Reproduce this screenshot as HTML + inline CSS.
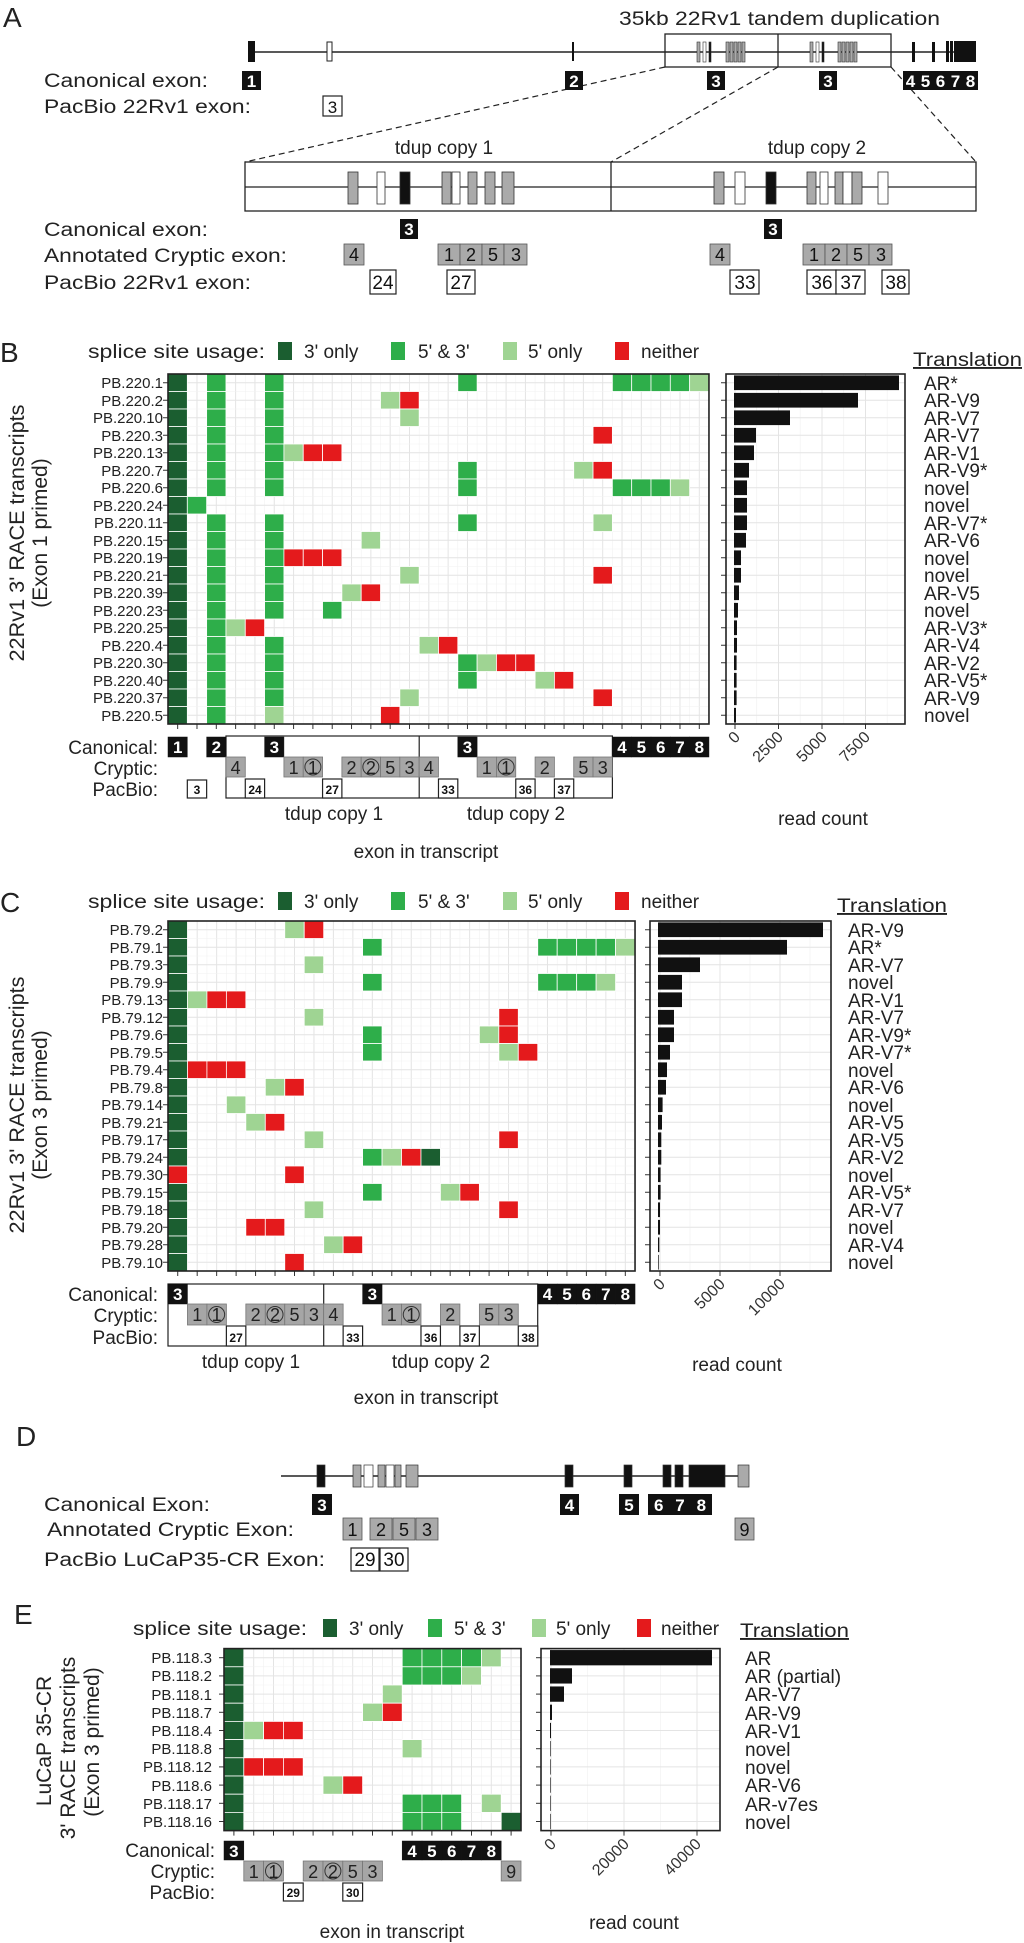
<!DOCTYPE html>
<html><head><meta charset="utf-8">
<style>
html,body{margin:0;padding:0;background:#fff;}
svg{display:block;font-family:"Liberation Sans",Arial,sans-serif;}
.lab{font-size:19px;fill:#222;}
.pb{font-size:15px;fill:#222;text-anchor:end;}
.tr{font-size:19px;fill:#222;}
.wb{font-size:17px;fill:#fff;font-weight:bold;text-anchor:middle;}
.cr{font-size:18px;fill:#222;text-anchor:middle;}
.pbn{font-size:12px;fill:#111;font-weight:bold;text-anchor:middle;}
.an{font-size:19px;fill:#111;text-anchor:middle;}
.big{font-size:28px;fill:#222;}
.ax{font-size:16px;fill:#333;text-anchor:end;}
</style></head><body>
<svg id="s" width="1024" height="1943" viewBox="0 0 1024 1943" xmlns="http://www.w3.org/2000/svg">
<g id="shapes"></g>
<g id="panelA">
 <line x1="248" y1="52" x2="976" y2="52" stroke="#222" stroke-width="1.5"/>
 <rect x="248" y="41" width="7" height="21" fill="#111"/>
 <rect x="327" y="42" width="5" height="19" fill="#fff" stroke="#222"/>
 <rect x="572" y="42" width="2" height="19" fill="#111"/>
 <rect x="665" y="34" width="226" height="33" fill="none" stroke="#222" stroke-width="1.3"/>
 <line x1="778" y1="34" x2="778" y2="67" stroke="#222" stroke-width="1.3"/>
 <g fill="#aaa" stroke="#333" stroke-width="0.6">
  <rect x="697" y="42" width="3" height="20"/><rect x="703" y="42" width="3" height="20" fill="#fff"/><rect x="709" y="42" width="2" height="20" fill="#111"/>
  <rect x="726" y="42" width="3" height="20"/><rect x="730" y="42" width="3" height="20"/><rect x="734" y="42" width="3" height="20"/><rect x="738" y="42" width="3" height="20"/><rect x="742" y="42" width="3" height="20"/>
  <rect x="810" y="42" width="3" height="20"/><rect x="816" y="42" width="3" height="20" fill="#fff"/><rect x="822" y="42" width="2" height="20" fill="#111"/>
  <rect x="838" y="42" width="3" height="20"/><rect x="842" y="42" width="3" height="20"/><rect x="846" y="42" width="3" height="20"/><rect x="850" y="42" width="3" height="20"/><rect x="854" y="42" width="3" height="20"/>
 </g>
 <rect x="912" y="42" width="3" height="20" fill="#111"/><rect x="932" y="42" width="3" height="20" fill="#111"/>
 <rect x="946" y="41" width="3" height="21" fill="#111"/><rect x="950" y="41" width="3" height="21" fill="#111"/><rect x="954" y="41" width="22" height="21" fill="#111"/>
 <g stroke="#222" stroke-width="1.2" stroke-dasharray="6,4">
  <line x1="665" y1="67" x2="245" y2="162"/><line x1="778" y1="67" x2="611" y2="162"/><line x1="891" y1="67" x2="976" y2="162"/>
 </g>
 <rect x="245" y="162" width="731" height="49" fill="none" stroke="#222" stroke-width="1.3"/>
 <line x1="611" y1="162" x2="611" y2="211" stroke="#222" stroke-width="1.3"/>
 <line x1="245" y1="187" x2="976" y2="187" stroke="#222" stroke-width="1.2"/>
 <g stroke="#333" stroke-width="0.8">
  <rect x="348" y="172" width="10" height="32" fill="#aaa"/><rect x="377" y="172" width="8" height="32" fill="#fff"/><rect x="400" y="172" width="10" height="32" fill="#111"/>
  <rect x="442" y="172" width="9" height="32" fill="#aaa"/><rect x="452" y="172" width="8" height="32" fill="#fff"/><rect x="468" y="172" width="9" height="32" fill="#aaa"/><rect x="485" y="172" width="10" height="32" fill="#aaa"/><rect x="502" y="172" width="12" height="32" fill="#aaa"/>
  <rect x="714" y="172" width="10" height="32" fill="#aaa"/><rect x="735" y="172" width="10" height="32" fill="#fff"/><rect x="766" y="172" width="10" height="32" fill="#111"/>
  <rect x="807" y="172" width="9" height="32" fill="#aaa"/><rect x="820" y="172" width="8" height="32" fill="#fff"/><rect x="835" y="172" width="8" height="32" fill="#aaa"/><rect x="843" y="172" width="9" height="32" fill="#fff"/><rect x="852" y="172" width="10" height="32" fill="#aaa"/><rect x="878" y="172" width="10" height="32" fill="#fff"/>
 </g>
 <rect x="242" y="71" width="19" height="19" fill="#111"/><rect x="565" y="71" width="18" height="19" fill="#111"/><rect x="707" y="71" width="18" height="19" fill="#111"/><rect x="819" y="71" width="18" height="19" fill="#111"/><rect x="903" y="71" width="75" height="19" fill="#111"/>
 <rect x="323" y="96" width="19" height="20" fill="#fff" stroke="#222" stroke-width="1.2"/>
 <rect x="400" y="219" width="18" height="20" fill="#111"/><rect x="764" y="219" width="18" height="20" fill="#111"/>
 <g fill="#aaa" stroke="#555" stroke-width="0.8">
  <rect x="344" y="244" width="20" height="21"/><rect x="438" y="244" width="22" height="21"/><rect x="460" y="244" width="22" height="21"/><rect x="482" y="244" width="22" height="21"/><rect x="504" y="244" width="23" height="21"/>
  <rect x="710" y="244" width="20" height="21"/><rect x="803" y="244" width="22" height="21"/><rect x="825" y="244" width="22" height="21"/><rect x="847" y="244" width="22" height="21"/><rect x="869" y="244" width="23" height="21"/>
 </g>
 <g fill="#fff" stroke="#222" stroke-width="1.2">
  <rect x="370" y="270" width="26" height="24"/><rect x="447" y="270" width="28" height="24"/><rect x="730" y="270" width="29" height="24"/><rect x="807" y="270" width="29" height="24"/><rect x="836" y="270" width="29" height="24"/><rect x="882" y="270" width="27" height="24"/>
 </g>
 <text x="3" y="27" class="big">A</text>
 <text x="619" y="25" class="lab" textLength="321" lengthAdjust="spacingAndGlyphs">35kb 22Rv1 tandem duplication</text>
 <text x="44" y="87" class="lab" textLength="164" lengthAdjust="spacingAndGlyphs">Canonical exon:</text>
 <text x="44" y="113" class="lab" textLength="207" lengthAdjust="spacingAndGlyphs">PacBio 22Rv1 exon:</text>
 <g class="wb"><text x="251.5" y="87">1</text><text x="574" y="87">2</text><text x="716" y="87">3</text><text x="828" y="87">3</text>
 <text x="910.5" y="87">4</text><text x="925.5" y="87">5</text><text x="940.5" y="87">6</text><text x="955.5" y="87">7</text><text x="970.5" y="87">8</text></g>
 <text x="332.5" y="113" class="an" style="font-size:17px">3</text>
 <text x="444" y="154" class="lab" text-anchor="middle">tdup copy 1</text>
 <text x="817" y="154" class="lab" text-anchor="middle">tdup copy 2</text>
 <text x="44" y="236" class="lab" textLength="164" lengthAdjust="spacingAndGlyphs">Canonical exon:</text>
 <text x="44" y="262" class="lab" textLength="243" lengthAdjust="spacingAndGlyphs">Annotated Cryptic exon:</text>
 <text x="44" y="289" class="lab" textLength="207" lengthAdjust="spacingAndGlyphs">PacBio 22Rv1 exon:</text>
 <g class="wb"><text x="409" y="235">3</text><text x="773" y="235">3</text></g>
 <g class="an" style="font-size:18px"><text x="354" y="261">4</text><text x="449" y="261">1</text><text x="471" y="261">2</text><text x="493" y="261">5</text><text x="516" y="261">3</text>
 <text x="720" y="261">4</text><text x="814" y="261">1</text><text x="836" y="261">2</text><text x="858" y="261">5</text><text x="881" y="261">3</text></g>
 <g class="an"><text x="383" y="289">24</text><text x="461" y="289">27</text><text x="745" y="289">33</text><text x="822" y="289">36</text><text x="851" y="289">37</text><text x="896" y="289">38</text></g>
</g>

<g>
 <text x="0" y="362" class="big">B</text>
 <text x="88" y="358" class="lab" textLength="177" lengthAdjust="spacingAndGlyphs">splice site usage:</text>
 <rect x="278" y="342" width="14" height="18" fill="#1b5e30"/><text x="304" y="358" class="lab">3' only</text>
 <rect x="391" y="342" width="14" height="18" fill="#2eae4a"/><text x="418" y="358" class="lab">5' &amp; 3'</text>
 <rect x="503" y="342" width="14" height="18" fill="#9fd493"/><text x="528" y="358" class="lab">5' only</text>
 <rect x="615" y="342" width="14" height="18" fill="#e41a1c"/><text x="641" y="358" class="lab">neither</text>
 <text x="913" y="366" class="lab" text-decoration="underline" textLength="109" lengthAdjust="spacingAndGlyphs">Translation</text>
 <g class="pb"><text x="163" y="388">PB.220.1</text><text x="163" y="406">PB.220.2</text><text x="163" y="423">PB.220.10</text><text x="163" y="441">PB.220.3</text><text x="163" y="458">PB.220.13</text><text x="163" y="476">PB.220.7</text><text x="163" y="493">PB.220.6</text><text x="163" y="511">PB.220.24</text><text x="163" y="528">PB.220.11</text><text x="163" y="546">PB.220.15</text><text x="163" y="563">PB.220.19</text><text x="163" y="581">PB.220.21</text><text x="163" y="598">PB.220.39</text><text x="163" y="616">PB.220.23</text><text x="163" y="633">PB.220.25</text><text x="163" y="651">PB.220.4</text><text x="163" y="668">PB.220.30</text><text x="163" y="686">PB.220.40</text><text x="163" y="703">PB.220.37</text><text x="163" y="721">PB.220.5</text></g>
 <g class="tr"><text x="924" y="390">AR*</text><text x="924" y="407">AR-V9</text><text x="924" y="425">AR-V7</text><text x="924" y="442">AR-V7</text><text x="924" y="460">AR-V1</text><text x="924" y="477">AR-V9*</text><text x="924" y="495">novel</text><text x="924" y="512">novel</text><text x="924" y="530">AR-V7*</text><text x="924" y="547">AR-V6</text><text x="924" y="565">novel</text><text x="924" y="582">novel</text><text x="924" y="600">AR-V5</text><text x="924" y="617">novel</text><text x="924" y="635">AR-V3*</text><text x="924" y="652">AR-V4</text><text x="924" y="670">AR-V2</text><text x="924" y="687">AR-V5*</text><text x="924" y="705">AR-V9</text><text x="924" y="722">novel</text></g>
 <text transform="translate(24,533) rotate(-90)" class="lab" text-anchor="middle" textLength="257" lengthAdjust="spacingAndGlyphs" style="font-size:21px">22Rv1 3' RACE transcripts</text>
 <text transform="translate(47,533) rotate(-90)" class="lab" text-anchor="middle" style="font-size:21px">(Exon 1 primed)</text>
 <g class="lab" text-anchor="end"><text x="158" y="754">Canonical:</text><text x="158" y="775">Cryptic:</text><text x="158" y="796">PacBio:</text></g>
 <g class="wb"><text x="177.7" y="753">1</text><text x="216.3" y="753">2</text><text x="274.3" y="753">3</text><text x="467.5" y="753">3</text><text x="622" y="753">4</text><text x="641.3" y="753">5</text><text x="660.7" y="753">6</text><text x="680" y="753">7</text><text x="699.3" y="753">8</text></g>
 <g class="cr"><text x="235.6" y="774">4</text><text x="293.6" y="774">1</text><text x="312.9" y="774">1</text><text x="351.5" y="774">2</text><text x="370.9" y="774">2</text><text x="390.2" y="774">5</text><text x="409.5" y="774">3</text><text x="428.8" y="774">4</text><text x="486.8" y="774">1</text><text x="506.1" y="774">1</text><text x="544.7" y="774">2</text><text x="583.4" y="774">5</text><text x="602.7" y="774">3</text></g>
 <g class="pbn"><text x="197" y="794">3</text><text x="255" y="794">24</text><text x="332.2" y="794">27</text><text x="448.1" y="794">33</text><text x="525.4" y="794">36</text><text x="564.1" y="794">37</text></g>
 <text x="334" y="820" class="lab" text-anchor="middle">tdup copy 1</text>
 <text x="516" y="820" class="lab" text-anchor="middle">tdup copy 2</text>
 <text x="426" y="858" class="lab" text-anchor="middle">exon in transcript</text>
 <g class="ax"><text transform="translate(741,738) rotate(-45)">0</text><text transform="translate(784,738) rotate(-45)">2500</text><text transform="translate(828,738) rotate(-45)">5000</text><text transform="translate(871,738) rotate(-45)">7500</text></g>
 <text x="823" y="825" class="lab" text-anchor="middle">read count</text>
</g>

<g>
 <text x="0" y="912" class="big">C</text>
 <text x="88" y="908" class="lab" textLength="177" lengthAdjust="spacingAndGlyphs">splice site usage:</text>
 <rect x="278" y="892" width="14" height="18" fill="#1b5e30"/><text x="304" y="908" class="lab">3' only</text>
 <rect x="391" y="892" width="14" height="18" fill="#2eae4a"/><text x="418" y="908" class="lab">5' &amp; 3'</text>
 <rect x="503" y="892" width="14" height="18" fill="#9fd493"/><text x="528" y="908" class="lab">5' only</text>
 <rect x="615" y="892" width="14" height="18" fill="#e41a1c"/><text x="641" y="908" class="lab">neither</text>
 <text x="837" y="912" class="lab" text-decoration="underline" textLength="110" lengthAdjust="spacingAndGlyphs">Translation</text>
 <g class="pb"><text x="163" y="935">PB.79.2</text><text x="163" y="953">PB.79.1</text><text x="163" y="970">PB.79.3</text><text x="163" y="988">PB.79.9</text><text x="163" y="1005">PB.79.13</text><text x="163" y="1023">PB.79.12</text><text x="163" y="1040">PB.79.6</text><text x="163" y="1058">PB.79.5</text><text x="163" y="1075">PB.79.4</text><text x="163" y="1093">PB.79.8</text><text x="163" y="1110">PB.79.14</text><text x="163" y="1128">PB.79.21</text><text x="163" y="1145">PB.79.17</text><text x="163" y="1163">PB.79.24</text><text x="163" y="1180">PB.79.30</text><text x="163" y="1198">PB.79.15</text><text x="163" y="1215">PB.79.18</text><text x="163" y="1233">PB.79.20</text><text x="163" y="1250">PB.79.28</text><text x="163" y="1268">PB.79.10</text></g>
 <g class="tr"><text x="848" y="937">AR-V9</text><text x="848" y="954">AR*</text><text x="848" y="972">AR-V7</text><text x="848" y="989">novel</text><text x="848" y="1007">AR-V1</text><text x="848" y="1024">AR-V7</text><text x="848" y="1042">AR-V9*</text><text x="848" y="1059">AR-V7*</text><text x="848" y="1077">novel</text><text x="848" y="1094">AR-V6</text><text x="848" y="1112">novel</text><text x="848" y="1129">AR-V5</text><text x="848" y="1147">AR-V5</text><text x="848" y="1164">AR-V2</text><text x="848" y="1182">novel</text><text x="848" y="1199">AR-V5*</text><text x="848" y="1217">AR-V7</text><text x="848" y="1234">novel</text><text x="848" y="1252">AR-V4</text><text x="848" y="1269">novel</text></g>
 <text transform="translate(24,1105) rotate(-90)" class="lab" text-anchor="middle" textLength="257" lengthAdjust="spacingAndGlyphs" style="font-size:21px">22Rv1 3' RACE transcripts</text>
 <text transform="translate(47,1105) rotate(-90)" class="lab" text-anchor="middle" style="font-size:21px">(Exon 3 primed)</text>
 <g class="lab" text-anchor="end"><text x="158" y="1301">Canonical:</text><text x="158" y="1322">Cryptic:</text><text x="158" y="1344">PacBio:</text></g>
 <g class="wb"><text x="177.7" y="1300">3</text><text x="372.3" y="1300">3</text><text x="547.5" y="1300">4</text><text x="567" y="1300">5</text><text x="586.4" y="1300">6</text><text x="605.9" y="1300">7</text><text x="625.3" y="1300">8</text></g>
 <g class="cr"><text x="197.2" y="1321">1</text><text x="216.6" y="1321">1</text><text x="255.6" y="1321">2</text><text x="275" y="1321">2</text><text x="294.5" y="1321">5</text><text x="313.9" y="1321">3</text><text x="333.4" y="1321">4</text><text x="391.8" y="1321">1</text><text x="411.3" y="1321">1</text><text x="450.2" y="1321">2</text><text x="489.1" y="1321">5</text><text x="508.6" y="1321">3</text></g>
 <g class="pbn"><text x="236.1" y="1342">27</text><text x="352.9" y="1342">33</text><text x="430.7" y="1342">36</text><text x="469.6" y="1342">37</text><text x="528" y="1342">38</text></g>
 <text x="251" y="1368" class="lab" text-anchor="middle">tdup copy 1</text>
 <text x="441" y="1368" class="lab" text-anchor="middle">tdup copy 2</text>
 <text x="426" y="1404" class="lab" text-anchor="middle">exon in transcript</text>
 <g class="ax"><text transform="translate(666,1285) rotate(-45)">0</text><text transform="translate(726,1285) rotate(-45)">5000</text><text transform="translate(786,1285) rotate(-45)">10000</text></g>
 <text x="737" y="1371" class="lab" text-anchor="middle">read count</text>
</g>

<g>
 <text x="16" y="1446" class="big">D</text>
 <line x1="281" y1="1476" x2="748" y2="1476" stroke="#222" stroke-width="1.5"/>
 <g stroke="#333" stroke-width="0.7">
  <rect x="317" y="1465" width="8" height="22" fill="#111"/>
  <rect x="353" y="1465" width="8" height="22" fill="#aaa"/><rect x="364" y="1465" width="9" height="22" fill="#fff"/><rect x="378" y="1465" width="7" height="22" fill="#aaa"/><rect x="386" y="1465" width="8" height="22" fill="#fff"/><rect x="395" y="1465" width="6" height="22" fill="#aaa"/><rect x="406" y="1465" width="12" height="22" fill="#aaa"/>
  <rect x="565" y="1465" width="8" height="22" fill="#111"/><rect x="624" y="1465" width="8" height="22" fill="#111"/><rect x="663" y="1465" width="8" height="22" fill="#111"/><rect x="675" y="1465" width="8" height="22" fill="#111"/><rect x="689" y="1465" width="36" height="22" fill="#111"/><rect x="738" y="1465" width="11" height="22" fill="#aaa"/>
 </g>
 <rect x="312" y="1494" width="20" height="21" fill="#111"/><rect x="560" y="1494" width="19" height="21" fill="#111"/><rect x="619" y="1494" width="20" height="21" fill="#111"/><rect x="648" y="1494" width="64" height="21" fill="#111"/>
 <g fill="#aaa" stroke="#555" stroke-width="0.8"><rect x="343" y="1518" width="19" height="22"/><rect x="370" y="1518" width="22" height="22"/><rect x="393" y="1518" width="22" height="22"/><rect x="416" y="1518" width="22" height="22"/><rect x="735" y="1518" width="19" height="22"/></g>
 <g fill="#fff" stroke="#222" stroke-width="1.2"><rect x="351" y="1548" width="28" height="23"/><rect x="380" y="1548" width="28" height="23"/></g>
 <text x="44" y="1511" class="lab" textLength="166" lengthAdjust="spacingAndGlyphs">Canonical Exon:</text>
 <text x="47" y="1536" class="lab" textLength="247" lengthAdjust="spacingAndGlyphs">Annotated Cryptic Exon:</text>
 <text x="44" y="1566" class="lab" textLength="281" lengthAdjust="spacingAndGlyphs">PacBio LuCaP35-CR Exon:</text>
 <g class="wb"><text x="322" y="1511">3</text><text x="569.5" y="1511">4</text><text x="629" y="1511">5</text><text x="658.7" y="1511">6</text><text x="680" y="1511">7</text><text x="701.3" y="1511">8</text></g>
 <g class="an" style="font-size:18px"><text x="352.5" y="1536">1</text><text x="381" y="1536">2</text><text x="404" y="1536">5</text><text x="427" y="1536">3</text><text x="744.5" y="1536">9</text></g>
 <g class="an"><text x="365" y="1566">29</text><text x="394" y="1566">30</text></g>
</g>

<g>
 <text x="14" y="1624" class="big">E</text>
 <text x="133" y="1635" class="lab" textLength="174" lengthAdjust="spacingAndGlyphs">splice site usage:</text>
 <rect x="323" y="1619" width="14" height="18" fill="#1b5e30"/><text x="349" y="1635" class="lab">3' only</text>
 <rect x="428" y="1619" width="14" height="18" fill="#2eae4a"/><text x="454" y="1635" class="lab">5' &amp; 3'</text>
 <rect x="532" y="1619" width="14" height="18" fill="#9fd493"/><text x="556" y="1635" class="lab">5' only</text>
 <rect x="637" y="1619" width="14" height="18" fill="#e41a1c"/><text x="661" y="1635" class="lab">neither</text>
 <text x="740" y="1637" class="lab" text-decoration="underline" textLength="109" lengthAdjust="spacingAndGlyphs">Translation</text>
 <g class="pb"><text x="212" y="1663">PB.118.3</text><text x="212" y="1681">PB.118.2</text><text x="212" y="1700">PB.118.1</text><text x="212" y="1718">PB.118.7</text><text x="212" y="1736">PB.118.4</text><text x="212" y="1754">PB.118.8</text><text x="212" y="1772">PB.118.12</text><text x="212" y="1791">PB.118.6</text><text x="212" y="1809">PB.118.17</text><text x="212" y="1827">PB.118.16</text></g>
 <g class="tr"><text x="745" y="1665">AR</text><text x="745" y="1683">AR (partial)</text><text x="745" y="1701">AR-V7</text><text x="745" y="1720">AR-V9</text><text x="745" y="1738">AR-V1</text><text x="745" y="1756">novel</text><text x="745" y="1774">novel</text><text x="745" y="1792">AR-V6</text><text x="745" y="1811">AR-v7es</text><text x="745" y="1829">novel</text></g>
 <text transform="translate(51,1741) rotate(-90)" class="lab" text-anchor="middle" style="font-size:21px">LuCaP 35-CR</text>
 <text transform="translate(75,1748) rotate(-90)" class="lab" text-anchor="middle" style="font-size:21px">3' RACE transcripts</text>
 <text transform="translate(99,1742) rotate(-90)" class="lab" text-anchor="middle" style="font-size:21px">(Exon 3 primed)</text>
 <g class="lab" text-anchor="end"><text x="215" y="1857">Canonical:</text><text x="215" y="1878">Cryptic:</text><text x="215" y="1899">PacBio:</text></g>
 <g class="wb"><text x="233.9" y="1857">3</text><text x="412.1" y="1857">4</text><text x="431.9" y="1857">5</text><text x="451.7" y="1857">6</text><text x="471.5" y="1857">7</text><text x="491.3" y="1857">8</text></g>
 <g class="cr"><text x="253.7" y="1878">1</text><text x="273.5" y="1878">1</text><text x="313.1" y="1878">2</text><text x="332.9" y="1878">2</text><text x="352.7" y="1878">5</text><text x="372.5" y="1878">3</text><text x="511.1" y="1878">9</text></g>
 <g class="pbn"><text x="293.3" y="1897">29</text><text x="352.7" y="1897">30</text></g>
 <text x="392" y="1938" class="lab" text-anchor="middle">exon in transcript</text>
 <g class="ax"><text transform="translate(557,1845) rotate(-45)">0</text><text transform="translate(630,1845) rotate(-45)">20000</text><text transform="translate(702,1845) rotate(-45)">40000</text></g>
 <text x="634" y="1929" class="lab" text-anchor="middle">read count</text>
</g>
</svg>
<script>
const NS='http://www.w3.org/2000/svg';
const G=document.getElementById('shapes');
function el(t,a){const e=document.createElementNS(NS,t);for(const k in a)e.setAttribute(k,a[k]);G.appendChild(e);return e;}
const COL={D:'#1b5e30',G:'#2eae4a',L:'#9fd493',R:'#e41a1c'};
function heat(x0,y0,cw,rh,nc,rows){
  const nr=rows.length,W=cw*nc,H=rh*nr;
  el('rect',{x:x0,y:y0,width:W,height:H,fill:'#fff'});
  for(let c=0;c<=nc;c++){el('line',{x1:x0+c*cw,x2:x0+c*cw,y1:y0,y2:y0+H,stroke:'#f2f2f2','stroke-width':0.6});}
  for(let c=0;c<nc;c++){const x=x0+(c+.5)*cw;el('line',{x1:x,x2:x,y1:y0,y2:y0+H,stroke:'#e4e4e4','stroke-width':1});
    el('line',{x1:x,x2:x,y1:y0+H,y2:y0+H+5,stroke:'#333','stroke-width':1});}
  for(let r=0;r<=nr;r++){el('line',{x1:x0,x2:x0+W,y1:y0+r*rh,y2:y0+r*rh,stroke:'#f2f2f2','stroke-width':0.6});}
  for(let r=0;r<nr;r++){const y=y0+(r+.5)*rh;el('line',{x1:x0,x2:x0+W,y1:y,y2:y,stroke:'#e4e4e4','stroke-width':1});
    el('line',{x1:x0-5,x2:x0,y1:y,y2:y,stroke:'#333','stroke-width':1});}
  rows.forEach((s,r)=>s.split(' ').forEach(t=>{const c=parseInt(t),k=t.slice(-1);
    el('rect',{x:x0+c*cw,y:y0+r*rh,width:cw,height:rh,fill:COL[k],stroke:'#fff','stroke-width':0.8});}));
  el('rect',{x:x0,y:y0,width:W,height:H,fill:'none',stroke:'#222','stroke-width':1.6});
}
function bars(xs,xe,x0,y0,rh,ws,major,minor){
  const H=rh*ws.length;
  minor.forEach(x=>el('line',{x1:x,x2:x,y1:y0,y2:y0+H,stroke:'#f2f2f2','stroke-width':0.7}));
  major.forEach(x=>{el('line',{x1:x,x2:x,y1:y0,y2:y0+H,stroke:'#e4e4e4','stroke-width':1});el('line',{x1:x,x2:x,y1:y0+H,y2:y0+H+5,stroke:'#333','stroke-width':1});});
  ws.forEach((w,r)=>{const y=y0+(r+.5)*rh;el('line',{x1:xs,x2:xe,y1:y,y2:y,stroke:'#e4e4e4','stroke-width':1});
    el('line',{x1:xs-5,x2:xs,y1:y,y2:y,stroke:'#333','stroke-width':1});
    el('rect',{x:x0,y:y-rh*0.42,width:Math.max(w,0.6),height:rh*0.84,fill:'#111'});});
  el('rect',{x:xs,y:y0,width:xe-xs,height:H,fill:'none',stroke:'#222','stroke-width':1.6});
}
function boxes(x0,cw,y,h,cols,fill,stroke,sw){cols.forEach(c=>el('rect',{x:x0+c*cw,y:y,width:cw,height:h,fill:fill,stroke:stroke,'stroke-width':sw}));}
function circ(x0,cw,cy,cols){cols.forEach(c=>el('circle',{cx:x0+(c+.5)*cw,cy:cy,r:8,fill:'none',stroke:'#333','stroke-width':1}));}

heat(168,374,19.32,17.5,28,["0D 2G 5G 15G 23G 24G 25G 26G 27L","0D 2G 5G 11L 12R","0D 2G 5G 12L","0D 2G 5G 22R","0D 2G 5G 6L 7R 8R","0D 2G 5G 15G 21L 22R","0D 2G 5G 15G 23G 24G 25G 26L","0D 1G","0D 2G 5G 15G 22L","0D 2G 5G 10L","0D 2G 5G 6R 7R 8R","0D 2G 5G 12L 22R","0D 2G 5G 9L 10R","0D 2G 5G 8G","0D 2G 3L 4R","0D 2G 5G 13L 14R","0D 2G 5G 15G 16L 17R 18R","0D 2G 5G 15G 19L 20R","0D 2G 5G 12L 22R","0D 2G 5L 11R"]);
bars(726,905,734,374,17.5,[165,124,56,22,20,15,13,13,13,12,7,7,5,4,3,3,2.6,2.6,2.6,2],[735,778.5,822,865.5],[756.7,800.2,843.7,887.2]);
el('rect',{x:226,y:736,width:386.4,height:62,fill:'none',stroke:'#222','stroke-width':1.2});
el('line',{x1:419.2,x2:419.2,y1:736,y2:798,stroke:'#222','stroke-width':1.2});
boxes(168,19.32,737,20,[0,2,5,15,23,24,25,26,27],'#111','#111',0.5);
boxes(168,19.32,757,20,[3,6,7,9,10,11,12,13,16,17,19,21,22],'#a6a6a6','#777',0.8);
circ(168,19.32,767,[7,10,17]);
boxes(168,19.32,780,18,[1],'#fff','#222',1.2);
boxes(168,19.32,779,19,[4,8,14,18,20],'#fff','#222',1.2);

heat(168,921,19.46,17.5,24,["0D 6L 7R","0D 10G 19G 20G 21G 22G 23L","0D 7L","0D 10G 19G 20G 21G 22L","0D 1L 2R 3R","0D 7L 17R","0D 10G 16L 17R","0D 10G 17L 18R","0D 1R 2R 3R","0D 5L 6R","0D 3L","0D 4L 5R","0D 7L 17R","0D 10G 11L 12R 13D","0R 6R","0D 10G 14L 15R","0D 7L 17R","0D 4R 5R","0D 8L 9R","0D 6R"]);
bars(650,831,658,921,17.5,[165,129,42,24,24,16,16,12,9,8,4.6,4,3.3,3.3,2.6,2.6,2,2,1.3,0.7],[660,720,780],[690,750,810]);
el('rect',{x:168,y:1284,width:369.7,height:62,fill:'none',stroke:'#222','stroke-width':1.2});
el('line',{x1:323.7,x2:323.7,y1:1284,y2:1346,stroke:'#222','stroke-width':1.2});
boxes(168,19.46,1284,20,[0,10,19,20,21,22,23],'#111','#111',0.5);
boxes(168,19.46,1304,21,[1,2,4,5,6,7,8,11,12,14,16,17],'#a6a6a6','#777',0.8);
circ(168,19.46,1314.5,[2,5,12]);
boxes(168,19.46,1326,20,[3,9,13,15,18],'#fff','#222',1.2);

heat(224,1648.6,19.8,18.2,15,["0D 9G 10G 11G 12G 13L","0D 9G 10G 11G 12L","0D 8L","0D 7L 8R","0D 1L 2R 3R","0D 9L","0D 1R 2R 3R","0D 5L 6R","0D 9G 10G 11G 13L","0D 9G 10G 11G 14D"]);
bars(541,720,550,1648.6,18.2,[162,22,14,2,1,0.6,0.6,0.6,0.6,0.6],[551,624,697],[587.5,660.5]);
boxes(224,19.8,1841,19,[0,9,10,11,12,13],'#111','#111',0.5);
boxes(224,19.8,1861,20,[1,2,4,5,6,7,14],'#a6a6a6','#777',0.8);
circ(224,19.8,1871,[2,5]);
boxes(224,19.8,1883,18,[3,6],'#fff','#222',1.2);
</script>
</body></html>
